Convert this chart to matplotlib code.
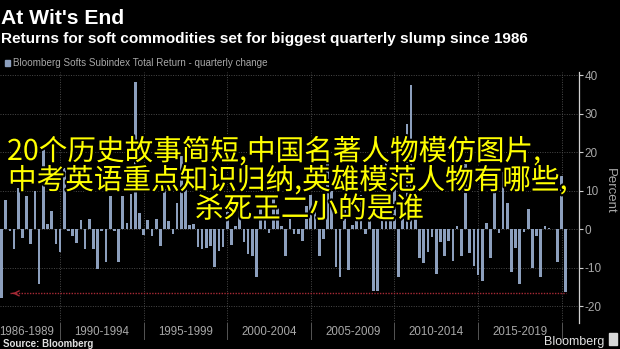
import matplotlib
matplotlib.use("Agg")
import matplotlib.pyplot as plt
import matplotlib.patheffects as pe
import numpy as np
import pandas as pd

plt.rcParams['axes.unicode_minus'] = False

# ---------------- data ----------------
first_quarter = "1986Q2"
quarterly_change = [
    -17.8, 7.6, -0.4, -5.0, 10.7, -2.3, 8.8, -3.9, 10.1, -14.2,
    20.8, 1.5, 4.9, -3.8, -5.9, 16.0, -0.5, -1.6, -3.4, 2.4,
    -5.2, 2.8, -5.2, -10.2, -0.4, -8.5, 8.6, -0.4, -8.5, 8.6,
    1.7, 9.3, 38.2, 4.2, -1.5, 2.4, -1.7, 2.8, -4.2, 10.4,
    2.1, -1.1, 7.0, 19.1, 11.0, 1.2, 1.5, -4.6, -5.2, -4.8,
    -4.4, -9.8, -5.5, -4.6, 4.5, -4.0, 1.0, 7.5, -3.3, -6.5,
    -7.0, -12.4, 6.0, 3.0, -1.0, 8.0, 6.0, 1.0, -7.0, 3.0,
    -1.1, -1.1, -3.0, 6.0, 9.0, 8.0, -6.8, -2.6, 18.0, 10.0,
    -9.8, -12.4, 5.0, -10.6, 1.2, 2.8, 9.0, -1.1, 2.8, -16.1,
    -16.1, 9.5, 17.9, 4.0, 11.0, -12.4, 4.5, 27.5, 37.5, 3.5,
    -7.5, -8.8, -5.8, -2.0, -11.6, -3.2, -6.8, -3.1, -8.1, 1.0,
    -6.9, 17.0, -6.0, -9.5, -11.9, -13.5, 1.6, -7.4, 12.0, -0.9,
    16.0, 6.9, -11.1, -4.8, -14.1, -0.7, 5.2, -10.0, -1.8, -12.4,
    0.8, 0.4, 0.2, -8.5, 14.0, -16.3,
]
group_labels = ["1986-1989", "1990-1994", "1995-1999", "2000-2004",
                "2005-2009", "2010-2014", "2015-2019"]
group_bounds = [1986, 1990, 1995, 2000, 2005, 2010, 2015, 2020]
y_ticks = [-20, -10, 0, 10, 20, 30, 40]
slump_level = -16.6
arrow_year = 1987.0

title = "At Wit's End"
subtitle = "Returns for soft commodities set for biggest quarterly slump since 1986"
legend_label = "Bloomberg Softs Subindex Total Return - quarterly change"
overlay_lines = ["20个历史故事简短,中国名著人物模仿图片,",
                 "中考英语重点知识归纳,英雄模范人物有哪些,",
                 "杀死王二小的是谁"]

# quarter-end positions in decimal years
periods = pd.period_range(first_quarter, periods=len(quarterly_change), freq="Q")
x = periods.year.values + periods.quarter.values * 0.25

# ---------------- figure ----------------
BAR = "#8c9fbd"
GRID = "#4a4a4a"
TXT = "#a8a8a8"
RED = "#a82a36"

fig = plt.figure(figsize=(6.2, 3.49), dpi=100, facecolor="black")
ax = fig.add_axes([0.0, 0.0745, 0.9339, 0.7192])
ax.set_facecolor("black")

ax.bar(x, quarterly_change, width=0.16, color=BAR, zorder=3, linewidth=0)
ax.set_xlim(1986.41, 2021.04)
ax.set_ylim(-24.3, 40.9)

for s in ["top", "left", "bottom"]:
    ax.spines[s].set_visible(False)
ax.spines["right"].set_color("#d0d0d0")
ax.spines["right"].set_linewidth(0.9)

ax.yaxis.tick_right()
ax.set_yticks(y_ticks)
ax.set_yticklabels([str(t) for t in y_ticks], family="Liberation Sans")
ax.tick_params(axis="y", colors="#d0d0d0", labelcolor=TXT, labelsize=8.5,
               length=3, width=0.8, pad=1)
ax.set_xticks([])
ax.grid(axis="y", color=GRID, linestyle=(0, (1, 1.5)), linewidth=0.7, zorder=0)

# vertical separators and group labels
xt = ax.get_xaxis_transform()
for b in group_bounds[1:]:
    ax.plot([b, b], [0, 1], transform=xt, color=GRID, linestyle=(0, (1, 1.5)),
            linewidth=0.7, zorder=0)
    ax.plot([b, b], [-0.065, 0], transform=xt, color="#555555",
            linewidth=0.7, clip_on=False)
for lab, a, b in zip(group_labels, group_bounds[:-1], group_bounds[1:]):
    ax.text((a + b) / 2, -0.034, lab, transform=xt, ha="center", va="center",
            color=TXT, fontsize=8.3, family="Liberation Sans", clip_on=False)

# reference line with arrow
ax.plot([arrow_year, x[-1]], [slump_level, slump_level], color=RED,
        linestyle=(0, (1, 1)), linewidth=1.0, zorder=4)
ax.annotate("", xy=(arrow_year, slump_level), xytext=(arrow_year + 0.35, slump_level),
            arrowprops=dict(arrowstyle="->", color=RED, lw=1.0,
                            mutation_scale=9), zorder=4)

# titles
fig.text(1 / 620, 1 - 24 / 349, title, color="white", fontsize=15.2,
         weight="bold", family="Liberation Sans", va="baseline")
fig.text(1 / 620, 1 - 42.5 / 349, subtitle, color="white", fontsize=11.1,
         weight="bold", family="Liberation Sans", va="baseline")
fig.patches.append(plt.Rectangle((5 / 620, 1 - 65.5 / 349), 4.5 / 620, 6 / 349,
                                 transform=fig.transFigure, color=BAR))
fig.text(13 / 620, 1 - 65.8 / 349, legend_label, color=TXT, fontsize=7.1,
         family="Liberation Sans", va="baseline")

fig.text(0.984, 1 - 191 / 349, "Percent", rotation=270, color=TXT,
         fontsize=9.5, family="Liberation Sans", ha="center", va="center")

fig.text(3 / 620, 1 - 347.3 / 349, "Source: Bloomberg", color="#e0e0e0",
         fontsize=7.0, weight="bold", family="Liberation Sans", va="baseline")
fig.text(604 / 620, 1 - 345 / 349, "Bloomberg", color="#e0e0e0",
         fontsize=9, family="Liberation Sans", va="baseline", ha="right")
fig.patches.append(plt.Rectangle((609 / 620, 1 - 345 / 349), 8 / 620, 12 / 349,
                                 transform=fig.transFigure, color="#d8d8d8"))

# overlay text
stroke = [pe.withStroke(linewidth=3, foreground="black")]
fam = ["Noto Sans CJK SC", "DejaVu Sans"]
fig.text(7 / 620, 1 - 152 / 349, overlay_lines[0], color="#ffff00", fontsize=20.6,
         family=fam, va="center", ha="left", path_effects=stroke)
fig.text(8 / 620, 1 - 181 / 349, overlay_lines[1], color="#ffff00", fontsize=20.6,
         family=fam, va="center", ha="left", path_effects=stroke)
fig.text(195 / 620, 1 - 209.5 / 349, overlay_lines[2], color="#ffff00", fontsize=20.6,
         family=fam, va="center", ha="left", path_effects=stroke)

fig.savefig("out.png", dpi=100, facecolor="black")
